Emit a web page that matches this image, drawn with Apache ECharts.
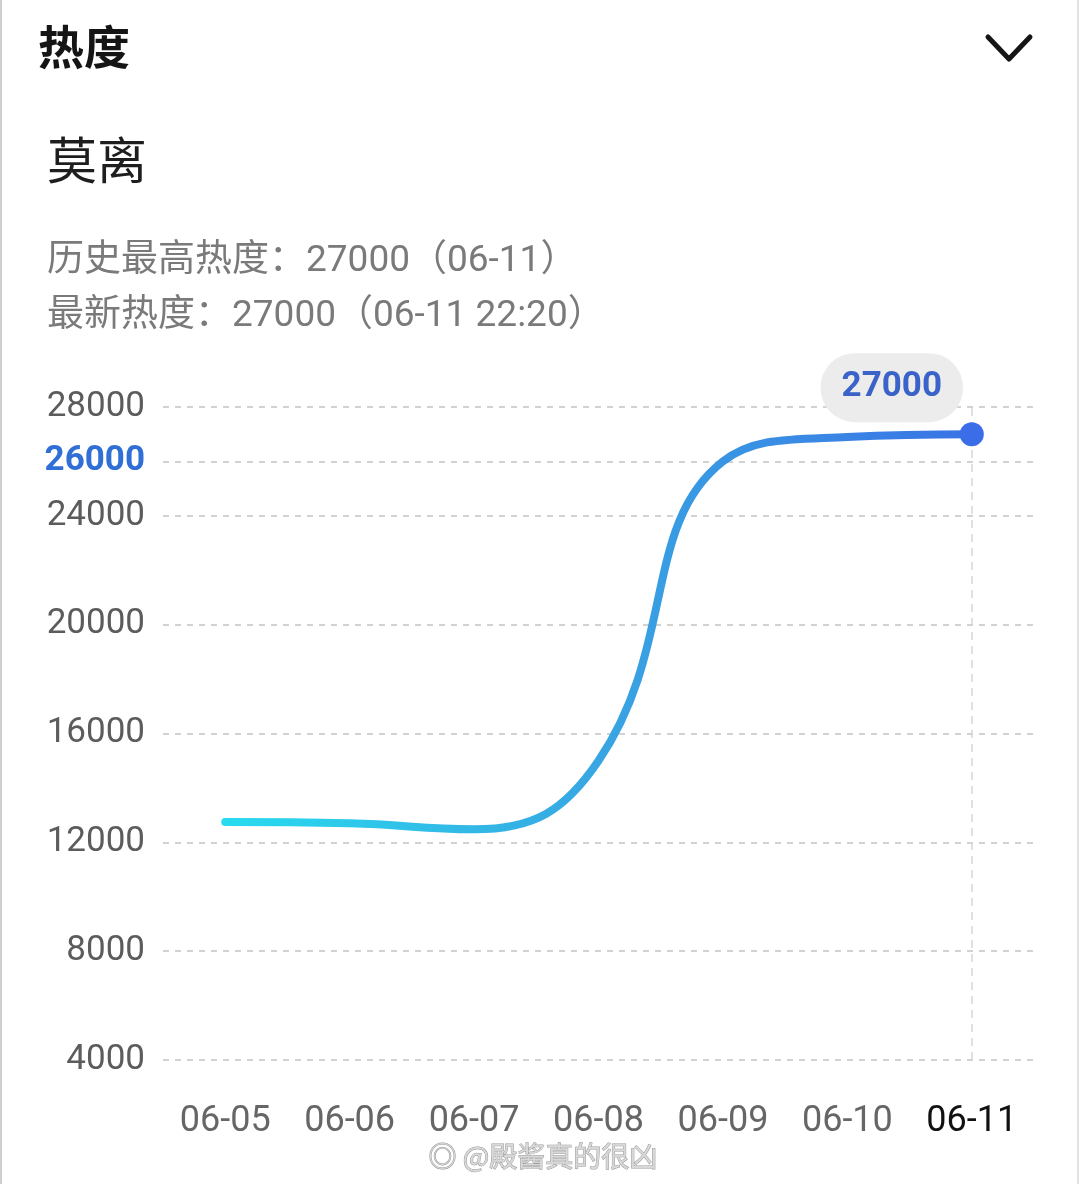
<!DOCTYPE html>
<html>
<head>
<meta charset="utf-8">
<script src="https://cdn.jsdelivr.net/npm/echarts@6/dist/echarts.min.js"></script>
<style>
  html, body { margin: 0; padding: 0; background: #fff; }
  #chart { width: 1080px; height: 1184px; }
</style>
</head>
<body>
<div id="chart"></div>
<script>
const dates = ['06-05', '06-06', '06-07', '06-08', '06-09', '06-10', '06-11']
const heat = [12750, 12700, 12480, 15000, 26000, 26900, 27000]
const yMin = 4000
const yMax = 28000
const yStep = 4000
const markValue = 26000

const font = 'Roboto, "Noto Sans CJK SC", sans-serif'
const cjk = '"Noto Sans CJK SC", Roboto, sans-serif'
const gridLine = { color: '#d2d2d2', width: 2, type: [6, 6] }
const last = heat.length - 1

const chart = echarts.init(document.getElementById('chart'))

// only the newest point gets a dot and the bubble label
const points = heat.map((v, i) =>
  i === last
    ? {
        value: v,
        symbolSize: 24,
        label: {
          show: true,
          position: 'top',
          offset: [-80, 5],
          fontSize: 35,
          fontWeight: 'bold',
          fontFamily: font,
          color: '#3a62c8',
          backgroundColor: '#ececec',
          borderRadius: 34,
          padding: [17, 21, 17, 21],
        },
      }
    : { value: v, symbolSize: 0 },
)

chart.setOption({
  animation: false,
  backgroundColor: '#fff',
  grid: { left: 163, right: 46, top: 407, bottom: 124, containLabel: false, outerBoundsMode: 'none' },
  xAxis: {
    type: 'category',
    data: dates,
    boundaryGap: true,
    axisLine: { show: false },
    axisTick: { show: false },
    axisLabel: {
      margin: 44,
      fontSize: 36,
      fontFamily: font,
      color: (v, i) => (i === last ? '#111' : '#666'),
    },
  },
  yAxis: {
    type: 'value',
    min: yMin,
    max: yMax,
    interval: yStep,
    axisLine: { show: false },
    axisTick: { show: false },
    axisLabel: { margin: 18, fontSize: 35, fontFamily: font, color: '#5c5c5c', formatter: v => String(v) },
    splitLine: { lineStyle: gridLine },
  },
  series: [
    {
      // helper series: reference lines drawn under the curve
      type: 'line',
      data: [],
      z: 1,
      markLine: {
        silent: true,
        symbol: 'none',
        animation: false,
        z: 1,
        data: [
          {
            yAxis: markValue,
            lineStyle: gridLine,
            label: {
              show: true,
              position: 'start',
              distance: 18,
              formatter: String(markValue),
              fontSize: 35,
              fontWeight: 'bold',
              fontFamily: font,
              color: '#2f6fd6',
            },
          },
          {
            xAxis: dates[last],
            lineStyle: { color: '#d6d6d6', width: 1.5, type: [8, 6] },
            label: { show: false },
          },
        ],
      },
    },
    {
      type: 'line',
      data: points,
      smooth: 0.45,
      symbol: 'circle',
      lineStyle: {
        width: 8,
        cap: 'round',
        color: new echarts.graphic.LinearGradient(0, 0, 1, 0, [
          { offset: 0, color: '#27dbef' },
          { offset: 0.5, color: '#38a6e2' },
          { offset: 1, color: '#3a72e6' },
        ]),
      },
      itemStyle: { color: '#3b6de8' },
      z: 3,
    },
  ],
  graphic: [
    { type: 'line', shape: { x1: 1, y1: 0, x2: 1, y2: 1184 }, style: { stroke: '#cfcfcf', lineWidth: 2 } },
    { type: 'line', shape: { x1: 1078, y1: 0, x2: 1078, y2: 1184 }, style: { stroke: '#e2e2e2', lineWidth: 2 } },
    {
      type: 'text', left: 38, top: 24,
      style: { text: '热度', font: 'bold 46px ' + cjk, fill: '#151515' },
    },
    {
      type: 'polyline',
      shape: { points: [[988, 37], [1009, 59], [1030, 37]] },
      style: { stroke: '#151515', lineWidth: 5, lineCap: 'round', lineJoin: 'round', fill: null },
    },
    {
      type: 'text', left: 47, top: 135,
      style: { text: '莫离', font: '50px ' + cjk, fill: '#1e1e1e' },
    },
    {
      type: 'text', left: 47, top: 243,
      style: { text: '历史最高热度：27000（06-11）', font: '37px ' + font, fill: '#7a7a7a' },
    },
    {
      type: 'text', left: 47, top: 298,
      style: { text: '最新热度：27000（06-11 22:20）', font: '37px ' + font, fill: '#7a7a7a' },
    },
    {
      type: 'text', left: 428, top: 1142,
      style: {
        text: '◎ @殿酱真的很凶', font: '28px ' + cjk, fill: '#d8d8d8',
        stroke: '#9a9a9a', lineWidth: 1,
      },
    },
  ],
})
</script>
</body>
</html>
